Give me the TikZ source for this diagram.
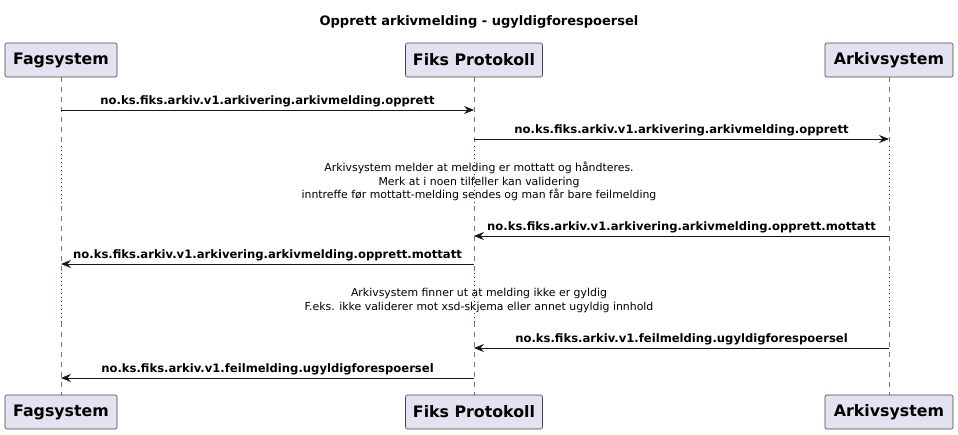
\documentclass[tikz,border=0pt]{standalone}
\usepackage{fontspec}
\setmainfont{DejaVu Sans}
\usetikzlibrary{arrows.meta}
\definecolor{partfill}{HTML}{E2E2F0}
\definecolor{partline}{HTML}{181818}
\definecolor{delayline}{HTML}{A80036}
\begin{document}
\begin{tikzpicture}
[x=1pt, y=-1pt,
every node/.style = {inner sep=1pt},
participant/.style = {draw=partline!80, fill=partfill, rounded corners=2pt, line width=0.6pt,
  minimum height=34pt, inner xsep=6pt, font=\fontsize{15.8}{17}\selectfont\bfseries},
lifeline/.style = {draw=partline!60, line width=0.6pt, dash pattern=on 5pt off 5pt},
delay/.style = {draw=delayline, line width=0.9pt, dash pattern=on 0.9pt off 3.1pt},
msg/.style = {draw=partline, line width=0.8pt, -{Stealth[length=10pt, width=8pt, inset=3.5pt]}},
msglabel/.style = {above=1.5pt, font=\fontsize{11.6}{13}\selectfont\bfseries},
delaytext/.style = {align=center, font=\fontsize{10.9}{13.5}\selectfont}]
\useasboundingbox (0,0) rectangle (958,434);
\node[font=\fontsize{13}{15}\selectfont\bfseries] (title) at (479,22) {Opprett arkivmelding - ugyldigforespoersel};
\node[participant, minimum width=112pt] (fag) at (61,60) {Fagsystem};
\node[participant, minimum width=137pt] (fiks) at (474,60) {Fiks Protokoll};
\node[participant, minimum width=128pt] (arkiv) at (889,60) {Arkivsystem};
\node[participant, minimum width=112pt] (fagB) at (61,412) {Fagsystem};
\node[participant, minimum width=137pt] (fiksB) at (474,412) {Fiks Protokoll};
\node[participant, minimum width=128pt] (arkivB) at (889,412) {Arkivsystem};
\coordinate (d1s) at (0,146);
\coordinate (d1e) at (0,206);
\coordinate (d2s) at (0,273);
\coordinate (d2e) at (0,322);
\draw[lifeline] (fag.south) -- (fag.south |- d1s) (fag.south |- d1e) -- (fag.south |- d2s) (fag.south |- d2e) -- (fagB.north);
\draw[lifeline] (fiks.south) -- (fiks.south |- d1s) (fiks.south |- d1e) -- (fiks.south |- d2s) (fiks.south |- d2e) -- (fiksB.north);
\draw[lifeline] (arkiv.south) -- (arkiv.south |- d1s) (arkiv.south |- d1e) -- (arkiv.south |- d2s) (arkiv.south |- d2e) -- (arkivB.north);
\draw[delay] (fag.south |- d1s) -- (fag.south |- d1e) (fag.south |- d2s) -- (fag.south |- d2e);
\draw[delay] (fiks.south |- d1s) -- (fiks.south |- d1e) (fiks.south |- d2s) -- (fiks.south |- d2e);
\draw[delay] (arkiv.south |- d1s) -- (arkiv.south |- d1e) (arkiv.south |- d2s) -- (arkiv.south |- d2e);
\coordinate (m1) at (0,110);
\coordinate (m2) at (0,139);
\coordinate (m3) at (0,236);
\coordinate (m4) at (0,264);
\coordinate (m5) at (0,348);
\coordinate (m6) at (0,378);
\draw[msg] (fag.south |- m1) -- node[msglabel] {no.ks.fiks.arkiv.v1.arkivering.arkivmelding.opprett} (fiks.south |- m1);
\draw[msg] (fiks.south |- m2) -- node[msglabel] {no.ks.fiks.arkiv.v1.arkivering.arkivmelding.opprett} (arkiv.south |- m2);
\node[delaytext] (note1) at (479,181.5) {Arkivsystem melder at melding er mottatt og håndteres.\\Merk at i noen tilfeller kan validering\\inntreffe før mottatt-melding sendes og man får bare feilmelding};
\draw[msg] (arkiv.south |- m3) -- node[msglabel] {no.ks.fiks.arkiv.v1.arkivering.arkivmelding.opprett.mottatt} (fiks.south |- m3);
\draw[msg] (fiks.south |- m4) -- node[msglabel] {no.ks.fiks.arkiv.v1.arkivering.arkivmelding.opprett.mottatt} (fag.south |- m4);
\node[delaytext] (note2) at (479,300.5) {Arkivsystem finner ut at melding ikke er gyldig\\F.eks. ikke validerer mot xsd-skjema eller annet ugyldig innhold};
\draw[msg] (arkiv.south |- m5) -- node[msglabel] {no.ks.fiks.arkiv.v1.feilmelding.ugyldigforespoersel} (fiks.south |- m5);
\draw[msg] (fiks.south |- m6) -- node[msglabel] {no.ks.fiks.arkiv.v1.feilmelding.ugyldigforespoersel} (fag.south |- m6);
\end{tikzpicture}
\end{document}
